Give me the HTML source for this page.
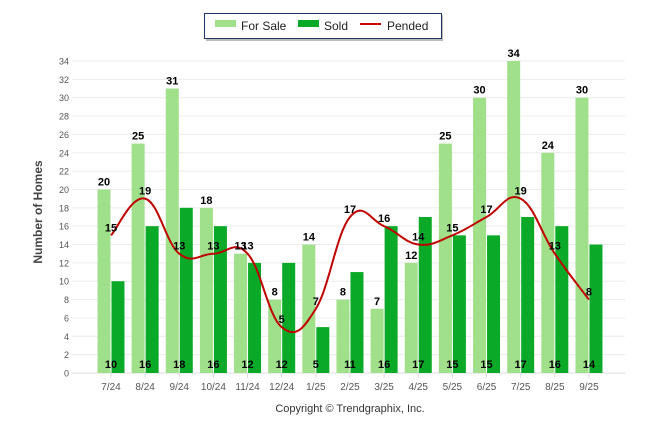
<!DOCTYPE html>
<html><head><meta charset="utf-8"><style>
body{margin:0;background:#fff;width:646px;height:434px;overflow:hidden;font-family:"Liberation Sans",sans-serif}
</style></head><body>
<svg id="chart" width="646" height="434" xmlns="http://www.w3.org/2000/svg" font-family="Liberation Sans, sans-serif">
<g>
<rect x="206" y="15" width="237" height="26" fill="#bbb"/>
<rect x="204.5" y="13.5" width="237" height="25" fill="#fff" stroke="#1f3864" stroke-width="1"/>
<rect x="215" y="20" width="21" height="7" fill="#a0e08a"/>
<text x="241" y="30" font-size="12" fill="#222">For Sale</text>
<rect x="298" y="20" width="21" height="7" fill="#0aaa28"/>
<text x="324" y="30" font-size="12" fill="#222">Sold</text>
<line x1="360" y1="24" x2="381" y2="24" stroke="#cc0000" stroke-width="2"/>
<text x="387" y="30" font-size="12" fill="#222">Pended</text>
</g>
<text transform="translate(42,212) rotate(-90)" text-anchor="middle" font-size="12" font-weight="bold" fill="#444">Number of Homes</text>
<text x="350" y="412" text-anchor="middle" font-size="11" fill="#333">Copyright © Trendgraphix, Inc.</text>
<g id="grid"></g><g id="bars"></g><g id="line"></g><g id="labels"></g>
</svg>
<script>
const categories=["7/24","8/24","9/24","10/24","11/24","12/24","1/25","2/25","3/25","4/25","5/25","6/25","7/25","8/25","9/25"];
const forSale=[20,25,31,18,13,8,14,8,7,12,25,30,34,24,30];
const sold=[10,16,18,16,12,12,5,11,16,17,15,15,17,16,14];
const pended=[15,19,13,13,13,5,7,17,16,14,15,17,19,13,8];
const yTicks=[0,2,4,6,8,10,12,14,16,18,20,22,24,26,28,30,32,34];
const NS="http://www.w3.org/2000/svg";
const y0=373,yTop=61,yMax=34;
const y=v=>y0-(y0-yTop)*v/yMax;
const x=i=>111+i*34.14;
function mk(t,a,p){const e=document.createElementNS(NS,t);for(const k in a)e.setAttribute(k,a[k]);document.getElementById(p).appendChild(e);return e;}
yTicks.forEach(t=>{
 const l=mk('line',{x1:72,x2:625,y1:y(t),y2:y(t),stroke:t===0?'#ddd':'#ececec','stroke-width':1},'grid');
 
 
 const tx=mk('text',{x:69,y:y(t)+3.5,'text-anchor':'end','font-size':9,fill:'#555'},'grid');
 
 
 tx.textContent=t;
});
categories.forEach((c,i)=>{
 const tk=mk('line',{x1:x(i),x2:x(i),y1:y0,y2:y0+5,stroke:'#ddd'},'grid');
 
 
 const t=mk('text',{x:x(i),y:390,'text-anchor':'middle','font-size':10,fill:'#555'},'grid');
 
 
 t.textContent=c;
 const b1=mk('rect',{x:x(i)-13.5,y:y(forSale[i]),width:13,height:y0-y(forSale[i]),fill:'#a0e08a'},'bars');
 
 
 const b2=mk('rect',{x:x(i)+0.5,y:y(sold[i]),width:13,height:y0-y(sold[i]),fill:'#0aaa28'},'bars');
 
 
 const l1=mk('text',{x:x(i)-7,y:y(forSale[i])-4,'text-anchor':'middle','font-size':11,'font-weight':'bold',fill:'#000'},'labels');
 
 
 l1.textContent=forSale[i];
 const l2=mk('text',{x:x(i)+0,y:368,'text-anchor':'middle','font-size':11,'font-weight':'bold',fill:'#000'},'labels');
 
 
 l2.textContent=sold[i];
 const l3=mk('text',{x:x(i),y:y(pended[i])-4,'text-anchor':'middle','font-size':11,'font-weight':'bold',fill:'#000'},'labels');
 
 
 l3.textContent=pended[i];
});
const pts=pended.map((v,i)=>[x(i),y(v)]);
let d=`M${pts[0][0]},${pts[0][1]}`;
for(let i=0;i<pts.length-1;i++){
 const p0=pts[Math.max(0,i-1)],p1=pts[i],p2=pts[i+1],p3=pts[Math.min(pts.length-1,i+2)];
 const k=0.2;
 const c1=[p1[0]+(p2[0]-p0[0])*k,p1[1]+(p2[1]-p0[1])*k];
 const c2=[p2[0]-(p3[0]-p1[0])*k,p2[1]-(p3[1]-p1[1])*k];
 d+=` C${c1[0]},${c1[1]} ${c2[0]},${c2[1]} ${p2[0]},${p2[1]}`;
}
const pl=mk('path',{d:d,fill:'none',stroke:'#c00000','stroke-width':2},'line');


</script>
</body></html>
